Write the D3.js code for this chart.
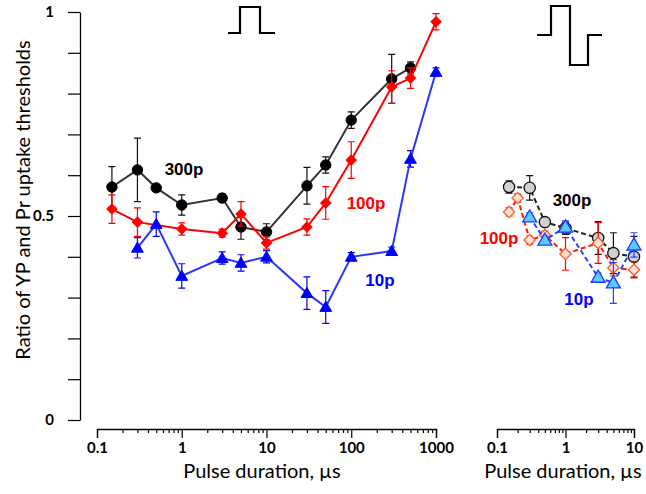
<!DOCTYPE html>
<html><head><meta charset="utf-8">
<script src="https://cdn.jsdelivr.net/npm/d3@7"></script>
<style>
html,body{margin:0;padding:0;background:#fff;}
svg{display:block;}
</style></head>
<body>
<svg id="chart" width="646" height="494"></svg>
<script>
// ---------------- data ----------------
// Left panel (filled markers, solid lines)
const xL300 = [0.15, 0.3, 0.5, 1, 3, 5, 10, 30, 50, 100, 300, 500];
const yL300 = [0.571, 0.613, 0.569, 0.527, 0.544, 0.473, 0.461, 0.574, 0.625, 0.735, 0.836, 0.863];
const eL300 = [0.05, 0.078, 0.0, 0.025, 0.01, 0.03, 0.02, 0.045, 0.02, 0.02, 0.06, 0.015];

const xL100 = [0.15, 0.3, 1, 3, 5, 10, 30, 50, 100, 300, 500, 1000];
const yL100 = [0.517, 0.485, 0.468, 0.458, 0.505, 0.434, 0.473, 0.532, 0.637, 0.816, 0.838, 0.976];
const eL100 = [0.035, 0.035, 0.015, 0.01, 0.03, 0.015, 0.02, 0.04, 0.045, 0.04, 0.025, 0.02];

const xL10 = [0.3, 0.5, 1, 3, 5, 10, 30, 50, 100, 300, 500, 1000];
const yL10 = [0.422, 0.48, 0.353, 0.397, 0.385, 0.40, 0.311, 0.277, 0.40, 0.414, 0.64, 0.853];
const eL10 = [0.025, 0.03, 0.03, 0.015, 0.02, 0.015, 0.04, 0.04, 0.01, 0.01, 0.02, 0.01];

// Right panel (open markers, dashed lines)
const xR300 = [0.15, 0.3, 0.5, 1, 3, 5, 10];
const yR300 = [0.571, 0.569, 0.485, 0.47, 0.446, 0.409, 0.40];
const eR300 = [0.015, 0.03, 0.01, 0.015, 0.04, 0.05, 0.05];

const xR100 = [0.15, 0.2, 0.3, 0.5, 1, 3, 5, 10];
const yR100 = [0.51, 0.544, 0.441, 0.453, 0.407, 0.434, 0.373, 0.368];
const eR100 = [0.01, 0.01, 0.01, 0.01, 0.04, 0.05, 0.02, 0.02];

const xR10 = [0.3, 0.5, 1, 3, 5, 10];
const yR10 = [0.498, 0.441, 0.473, 0.35, 0.336, 0.429];
const eR10 = [0.01, 0.01, 0.015, 0.01, 0.05, 0.03];

const xTicksLeft = [0.1, 1, 10, 100, 1000];
const xTickLabelsLeft = ["0.1", "1", "10", "100", "1000"];
const xTicksRight = [0.1, 1, 10];
const xTickLabelsRight = ["0.1", "1", "10"];
const yTicks = [0, 0.5, 1];
const yTickLabels = ["0", "0.5", "1"];
const seriesLabels = ["300p", "100p", "10p"];

// ---------------- scales ----------------
const svg = d3.select("#chart");
const xL = d3.scaleLog().domain([0.1, 1000]).range([97, 436]);
const xR = d3.scaleLog().domain([0.1, 10]).range([497, 634]);
const y = d3.scaleLinear().domain([0, 1]).range([420, 12]);
const axisY = 429;

const tickFont = "Lato, 'Open Sans', sans-serif";
const labFont = "'Liberation Sans', Arial, sans-serif";

// ---------------- axes ----------------
function minorTicks(domain) {
  const out = [];
  for (let d = domain[0]; d < domain[1]; d *= 10)
    for (let k = 2; k <= 9; k++) out.push(d * k);
  return out;
}
function drawXAxis(scale, majors, labels) {
  const gMinor = svg.append("g").attr("transform", `translate(0,${axisY})`)
    .call(d3.axisBottom(scale).tickValues(minorTicks(scale.domain())).tickSize(4).tickSizeOuter(0).tickFormat(""));
  gMinor.select(".domain").remove();
  const g = svg.append("g").attr("transform", `translate(0,${axisY})`)
    .call(d3.axisBottom(scale).tickValues(majors).tickSize(9).tickSizeOuter(9).tickPadding(4)
      .tickFormat((d, i) => labels[i]));
  [gMinor, g].forEach(gg => {
    gg.selectAll("line").attr("stroke", "#000").attr("stroke-width", 1.2);
    gg.selectAll(".domain").attr("stroke", "#000").attr("stroke-width", 1.3);
  });
  g.selectAll("text").attr("font-family", tickFont).attr("font-weight", "bold")
    .attr("font-size", 15).attr("fill", "#000");
}
drawXAxis(xL, xTicksLeft, xTickLabelsLeft);
drawXAxis(xR, xTicksRight, xTickLabelsRight);

const gy = svg.append("g").attr("transform", "translate(80,0)")
  .call(d3.axisLeft(y).tickValues(d3.range(0, 11).map(i => i / 10)).tickSize(12).tickSizeOuter(0).tickPadding(14)
    .tickFormat(d => { const i = yTicks.findIndex(t => Math.abs(t - d) < 1e-9); return i >= 0 ? yTickLabels[i] : ""; }));
gy.selectAll("line").attr("stroke", "#000").attr("stroke-width", 1.2);
gy.select(".domain").attr("stroke", "#000").attr("stroke-width", 1.3);
gy.selectAll("text").attr("font-family", tickFont).attr("font-weight", "bold")
  .attr("font-size", 15).attr("fill", "#000");

// axis titles
svg.append("text").attr("x", 262).attr("y", 478).attr("text-anchor", "middle")
  .attr("font-family", tickFont).attr("font-size", 20).attr("fill", "#000").text("Pulse duration, µs");
svg.append("text").attr("x", 563).attr("y", 478).attr("text-anchor", "middle")
  .attr("font-family", tickFont).attr("font-size", 20).attr("fill", "#000").text("Pulse duration, µs");
svg.append("text").attr("transform", "translate(30,200) rotate(-90)").attr("text-anchor", "middle")
  .attr("font-family", tickFont).attr("font-size", 20).attr("fill", "#000").text("Ratio of YP and Pr uptake thresholds");

// ---------------- series ----------------
function drawSeries(xs, ys, es, xScale, opt) {
  const data = xs.map((x, i) => ({ x, y: ys[i], e: es[i] }));
  const g = svg.append("g");
  // error bars
  data.filter(d => d.e > 0).forEach(d => {
    const cx = xScale(d.x), y1 = y(d.y + d.e), y2 = y(d.y - d.e), cw = 3.5;
    g.append("path").attr("d", `M${cx},${y1}V${y2}M${cx - cw},${y1}H${cx + cw}M${cx - cw},${y2}H${cx + cw}`)
      .attr("stroke", opt.errColor).attr("stroke-width", 1.2).attr("fill", "none");
  });
  // line
  g.append("path").datum(data)
    .attr("d", d3.line().x(d => xScale(d.x)).y(d => y(d.y)))
    .attr("fill", "none").attr("stroke", opt.lineColor).attr("stroke-width", 2)
    .attr("stroke-dasharray", opt.dash || null);
  // markers
  const sym = d3.symbol().type(opt.symbol).size(opt.size);
  g.selectAll(".m").data(data).join("path")
    .attr("transform", d => `translate(${xScale(d.x)},${y(d.y) + (opt.dy || 0)}) rotate(${opt.rot || 0})`)
    .attr("d", sym)
    .attr("fill", opt.fill).attr("stroke", opt.stroke).attr("stroke-width", opt.sw || 1);
}

// left panel
drawSeries(xL300, yL300, eL300, xL, { lineColor: "#333", errColor: "#111", symbol: d3.symbolCircle, size: 85, fill: "#000", stroke: "#000" });
drawSeries(xL100, yL100, eL100, xL, { lineColor: "#ff0000", errColor: "#ff0000", symbol: d3.symbolSquare, size: 52, rot: 45, fill: "#ff0000", stroke: "#ff0000" });
drawSeries(xL10, yL10, eL10, xL, { lineColor: "#2b35ff", errColor: "#0000ff", symbol: d3.symbolTriangle, size: 60, dy: 1, fill: "#0000ff", stroke: "#0000ff" });

// right panel
drawSeries(xR300, yR300, eR300, xR, { lineColor: "#222", errColor: "#111", dash: "5,3", symbol: d3.symbolCircle, size: 100, fill: "#d0d0d0", stroke: "#111", sw: 1.3 });
drawSeries(xR100, yR100, eR100, xR, { lineColor: "#ff1a00", errColor: "#ff0000", dash: "5,3", symbol: d3.symbolSquare, size: 64, rot: 45, fill: "#ffe0d6", stroke: "#f06030", sw: 1.3 });
drawSeries(xR10, yR10, eR10, xR, { lineColor: "#2244ff", errColor: "#2244ff", dash: "5,3", symbol: d3.symbolTriangle, size: 85, dy: 1, fill: "#60c8ff", stroke: "#1a3cff", sw: 1.3 });

// series labels
const labelSpecs = [
  { t: seriesLabels[0], x: 184, y: 175, c: "#000" },
  { t: seriesLabels[1], x: 366, y: 209, c: "#ff0000" },
  { t: seriesLabels[2], x: 380, y: 286, c: "#0000ff" },
  { t: seriesLabels[0], x: 572, y: 206, c: "#000" },
  { t: seriesLabels[1], x: 499, y: 244, c: "#ff0000" },
  { t: seriesLabels[2], x: 579, y: 305, c: "#0000ff" }
];
svg.append("g").selectAll("text").data(labelSpecs).join("text")
  .attr("x", d => d.x).attr("y", d => d.y).attr("text-anchor", "middle")
  .attr("font-family", labFont).attr("font-weight", "bold").attr("font-size", 17)
  .attr("fill", d => d.c).text(d => d.t);

// pulse waveform icons
svg.append("path").attr("d", "M228,33H240V7H260V33H275")
  .attr("fill", "none").attr("stroke", "#000").attr("stroke-width", 2.2);
svg.append("path").attr("d", "M537,35H551V6H570V65H588V35H602")
  .attr("fill", "none").attr("stroke", "#000").attr("stroke-width", 2.2);
</script>
</body></html>
